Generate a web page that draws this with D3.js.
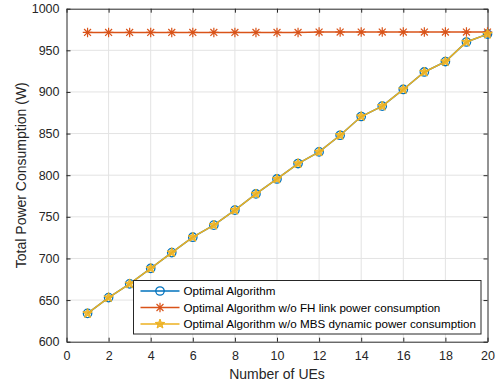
<!DOCTYPE html>
<html>
<head>
<meta charset="utf-8">
<script src="https://cdn.jsdelivr.net/npm/d3@7"></script>
<style>
  html, body { margin: 0; padding: 0; background: #fff; }
  svg { display: block; font-family: "Liberation Sans", Arial, Helvetica, sans-serif; }
</style>
</head>
<body>
<svg id="chart" width="498" height="384"></svg>
<script>
// Number of UEs on the x axis
const ues = d3.range(1, 21);

// Total power consumption (W) per scheme
const optimal = [634, 653, 669.5, 688, 707, 725.5, 740, 758, 777.5, 795.5,
                 814, 828, 848, 870.5, 883, 903, 924, 936.5, 960, 969.5];
const withoutFH = [971.5, 971.5, 971.5, 971.5, 971.5, 971.5, 971.5, 971.5, 971.5, 971.5,
                   971.5, 972, 972, 972, 972, 972, 972, 972, 972, 972];
const withoutMBS = [634, 653, 669.5, 688, 707, 725.5, 740, 758, 777.5, 795.5,
                    814, 828, 848, 870.5, 883, 903, 924, 936.5, 960, 969.5];

const seriesNames = [
  "Optimal Algorithm",
  "Optimal Algorithm w/o FH link power consumption",
  "Optimal Algorithm w/o MBS dynamic power consumption"
];

const xTicks = d3.range(0, 21, 2);
const yTicks = d3.range(600, 1001, 50);

const colors = ["#0072BD", "#D95319", "#EDB120"];
const axisColor = "#262626";

const svg = d3.select("#chart");
const margin = { left: 66.5, right: 10.5, top: 8.7, bottom: 42.3 };
const W = 498, H = 384;

const x = d3.scaleLinear().domain([0, 20]).range([margin.left, W - margin.right]);
const y = d3.scaleLinear().domain([600, 1000]).range([H - margin.bottom, margin.top]);

// grid
const grid = svg.append("g").attr("stroke", "#e3e3e3").attr("stroke-width", 1);
grid.selectAll("line.gx").data(xTicks.slice(1, -1)).join("line")
  .attr("x1", d => x(d)).attr("x2", d => x(d))
  .attr("y1", y(600)).attr("y2", y(1000));
grid.selectAll("line.gy").data(yTicks.slice(1, -1)).join("line")
  .attr("y1", d => y(d)).attr("y2", d => y(d))
  .attr("x1", x(0)).attr("x2", x(20));

// axes with inward ticks on all four sides
const tickLen = 4;
const fmt = d3.format("d");
const axBottom = svg.append("g").attr("transform", `translate(0,${y(600)})`)
  .call(d3.axisBottom(x).tickValues(xTicks).tickSizeInner(-tickLen).tickSizeOuter(0).tickPadding(9).tickFormat(fmt));
const axLeft = svg.append("g").attr("transform", `translate(${x(0)},0)`)
  .call(d3.axisLeft(y).tickValues(yTicks).tickSizeInner(-tickLen).tickSizeOuter(0).tickPadding(7).tickFormat(fmt));
const axTop = svg.append("g").attr("transform", `translate(0,${y(1000)})`)
  .call(d3.axisTop(x).tickValues(xTicks).tickSizeInner(-tickLen).tickSizeOuter(0).tickFormat(""));
const axRight = svg.append("g").attr("transform", `translate(${x(20)},0)`)
  .call(d3.axisRight(y).tickValues(yTicks).tickSizeInner(-tickLen).tickSizeOuter(0).tickFormat(""));

[axBottom, axLeft, axTop, axRight].forEach(g => {
  g.select(".domain").attr("stroke", axisColor).attr("stroke-width", 1);
  g.selectAll(".tick line").attr("stroke", axisColor).attr("stroke-width", 1);
  g.selectAll(".tick text").attr("fill", axisColor).attr("font-size", 12.5)
    .attr("font-family", "Liberation Sans, Arial, sans-serif");
});

// markers
const circleMarker = (g, cx, cy, c) => g.append("circle").attr("cx", cx).attr("cy", cy).attr("r", 4.2)
  .attr("fill", "none").attr("stroke", c).attr("stroke-width", 1.3);
const starPath = (cx, cy, R) => {
  const r = R * 0.42;
  const pts = [];
  for (let i = 0; i < 10; i++) {
    const a = -Math.PI / 2 + i * Math.PI / 5;
    const rr = i % 2 === 0 ? R : r;
    pts.push([cx + rr * Math.cos(a), cy + rr * Math.sin(a)]);
  }
  return "M" + pts.map(p => p.join(",")).join("L") + "Z";
};
const pentagram = (g, cx, cy, c) => g.append("path").attr("d", starPath(cx, cy, 5))
  .attr("fill", c).attr("fill-opacity", 0.85).attr("stroke", c).attr("stroke-width", 1);
const asterisk = (g, cx, cy, c) => {
  const s = 4.8, d = s * 0.72;
  g.append("path")
    .attr("d", `M${cx - s},${cy}L${cx + s},${cy}M${cx},${cy - s}L${cx},${cy + s}` +
               `M${cx - d},${cy - d}L${cx + d},${cy + d}M${cx - d},${cy + d}L${cx + d},${cy - d}`)
    .attr("stroke", c).attr("stroke-width", 1.2).attr("fill", "none");
};

const series = [
  { vals: optimal, color: colors[0], marker: circleMarker },
  { vals: withoutFH, color: colors[1], marker: asterisk },
  { vals: withoutMBS, color: colors[2], marker: pentagram }
];

const line = d3.line().x((d, i) => x(ues[i])).y(d => y(d));
const plot = svg.append("g");
series.forEach(s => {
  plot.append("path").datum(s.vals).attr("d", line)
    .attr("fill", "none").attr("stroke", s.color).attr("stroke-width", 1.5);
  const mg = plot.append("g");
  s.vals.forEach((v, i) => s.marker(mg, x(ues[i]), y(v), s.color));
});

// legend
const lg = svg.append("g");
const lx0 = 133.5, ly0 = 280.5, lw = 347.5, lh = 53.5;
lg.append("rect").attr("x", lx0).attr("y", ly0).attr("width", lw).attr("height", lh)
  .attr("fill", "#fff").attr("stroke", axisColor).attr("stroke-width", 1);
series.forEach((s, i) => {
  const cy = ly0 + 10.5 + i * 16.5;
  lg.append("line").attr("x1", lx0 + 7).attr("x2", lx0 + 46).attr("y1", cy).attr("y2", cy)
    .attr("stroke", s.color).attr("stroke-width", 1.5);
  s.marker(lg, lx0 + 26.5, cy, s.color);
  lg.append("text").attr("x", lx0 + 50).attr("y", cy).attr("dy", "0.35em")
    .attr("font-size", 11.65).attr("fill", "#000").text(seriesNames[i]);
});

// axis titles
svg.append("text").attr("x", (x(0) + x(20)) / 2).attr("y", 379)
  .attr("text-anchor", "middle").attr("font-size", 14).attr("fill", axisColor)
  .text("Number of UEs");
svg.append("text").attr("transform", `translate(26,${(y(600) + y(1000)) / 2}) rotate(-90)`)
  .attr("text-anchor", "middle").attr("font-size", 14).attr("fill", axisColor)
  .text("Total Power Consumption (W)");
</script>
</body>
</html>
